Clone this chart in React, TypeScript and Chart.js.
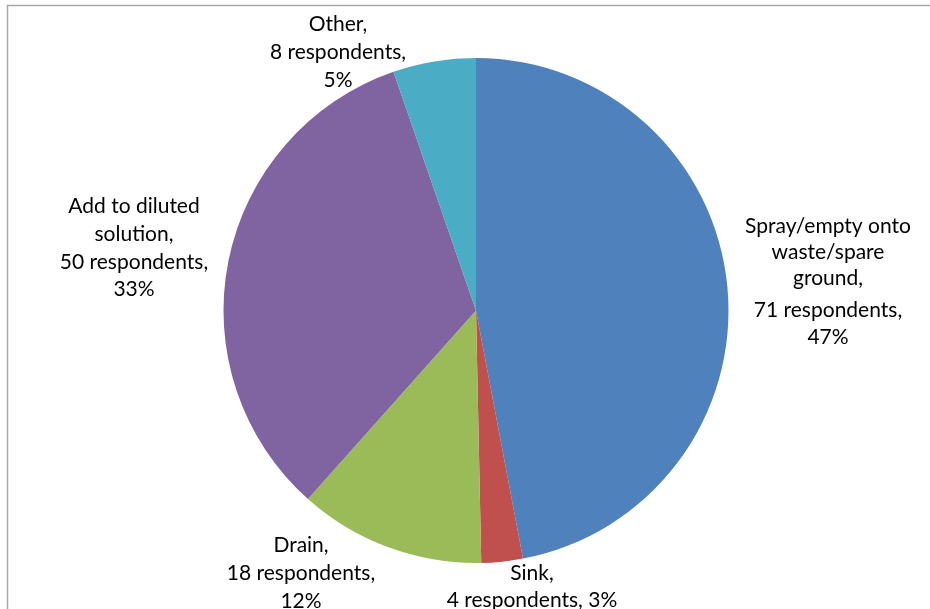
import React, { useEffect, useRef } from "react";
import { Chart, registerables } from "chart.js";

Chart.register(...registerables);

const categories = [
  "Spray/empty onto waste/spare ground",
  "Sink",
  "Drain",
  "Add to diluted solution",
  "Other",
];
const respondents = [71, 4, 18, 50, 8];
const colors = ["#4F81BD", "#C0504D", "#9BBB59", "#8064A2", "#4BACC6"];

// label layout: text lines built from data, positions for drawing text
const labelLayout = [
  { x: 828, ys: [226, 252, 278, 310, 337], split: [["Spray/empty onto", "waste/spare", "ground,"], "value", "pct"] },
  { x: 532, ys: [573, 600], split: [["Sink,"], "valuepct"] },
  { x: 301, ys: [545, 573, 601], split: [["Drain,"], "value", "pct"] },
  { x: 134, ys: [206, 234, 262, 289], split: [["Add to diluted", "solution,"], "value", "pct"] },
  { x: 338, ys: [24, 52, 80], split: [["Other,"], "value", "pct"] },
];

const FONT = "21px Lato";

export default function App() {
  const ref = useRef<HTMLCanvasElement | null>(null);
  useEffect(() => {
    document.body.style.margin = "0";
    const total = respondents.reduce((a, b) => a + b, 0);
    const labelPlugin = {
      id: "labels",
      afterDraw(chart: any) {
        const ctx = chart.ctx;
        ctx.save();
        // frame
        ctx.strokeStyle = "#A8A8A8";
        ctx.lineWidth = 1.5;
        ctx.beginPath();
        ctx.moveTo(7.5, 620);
        ctx.lineTo(7.5, 5.5);
        ctx.lineTo(940, 5.5);
        ctx.stroke();
        ctx.font = FONT;
        ctx.fillStyle = "#000";
        ctx.textAlign = "center";
        ctx.textBaseline = "middle";
        labelLayout.forEach((lay, i) => {
          const v = respondents[i];
          const pct = Math.round((v / total) * 100) + "%";
          const lines: string[] = [];
          lay.split.forEach((s: any) => {
            if (Array.isArray(s)) lines.push(...s);
            else if (s === "value") lines.push(v + " respondents,");
            else if (s === "pct") lines.push(pct);
            else if (s === "valuepct") lines.push(v + " respondents, " + pct);
          });
          lines.forEach((t, j) => ctx.fillText(t, lay.x, lay.ys[j]));
        });
        ctx.restore();
      },
    };
    const chart = new Chart(ref.current as HTMLCanvasElement, {
      type: "pie",
      data: {
        labels: categories,
        datasets: [
          {
            data: respondents,
            backgroundColor: colors,
            borderWidth: 0,
          },
        ],
      },
      options: {
        animation: false,
        responsive: false,
        layout: { padding: { left: 223, right: 201, top: 58, bottom: 46 } },
        plugins: { legend: { display: false }, tooltip: { enabled: false } },
      },
      plugins: [labelPlugin],
    });
    return () => chart.destroy();
  }, []);
  return (
    <div style={{ width: 930, height: 609, background: "#fff" }}>
      <canvas ref={ref} width={930} height={609} style={{ display: "block" }} />
    </div>
  );
}
